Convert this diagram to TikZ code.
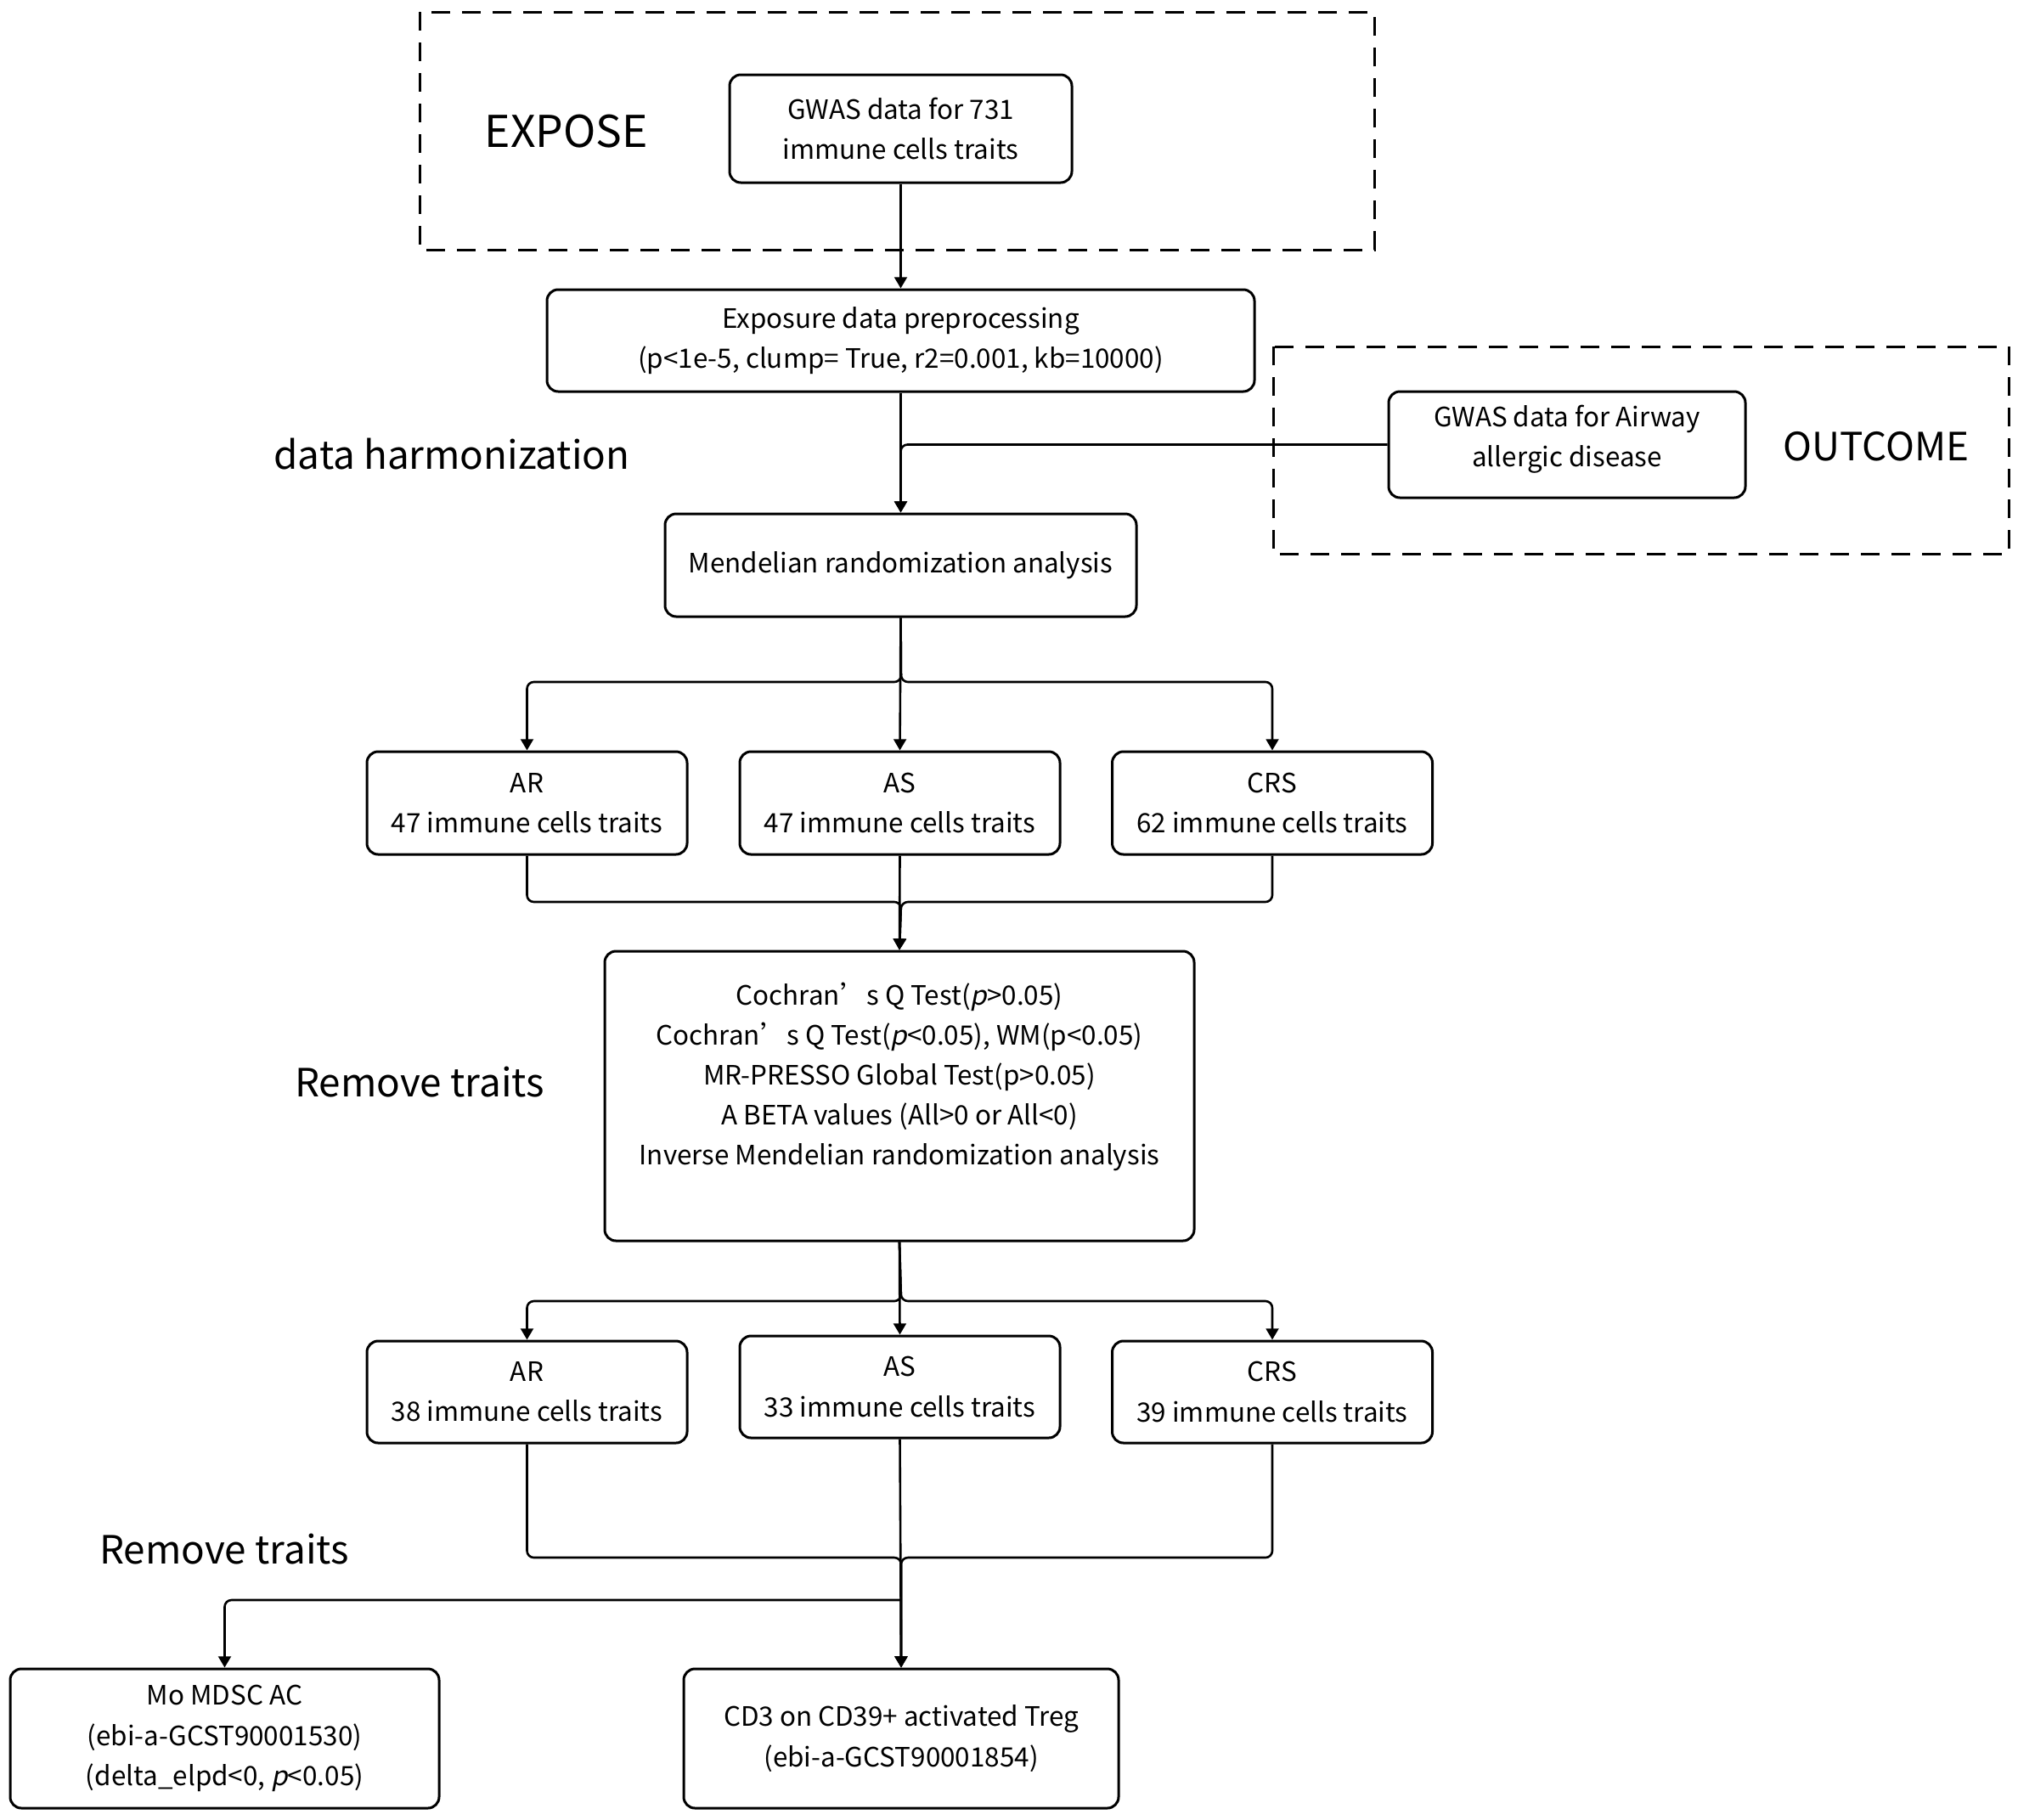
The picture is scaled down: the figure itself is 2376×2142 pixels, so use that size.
\documentclass[tikz,border=0pt]{standalone}
\usepackage{fontspec}
\setmainfont{Noto Sans CJK SC}[AutoFakeSlant=0.2]
\usetikzlibrary{arrows.meta}
\begin{document}
\begin{tikzpicture}[x=0.25pt,y=-0.25pt,
  box/.style={draw, line width=0.75pt, rounded corners=3.3pt, align=center,
    font=\fontsize{7.85}{11.8}\selectfont, inner sep=0pt},
  conn/.style={line width=0.65pt, rounded corners=2pt},
  arr/.style={conn, -{Triangle[length=3.3pt,width=3.7pt]}},
  frame/.style={draw, line width=0.75pt, dash pattern=on 5.5pt off 3.5pt},
  big/.style={font=\fontsize{11.45}{13}\selectfont, inner sep=0pt}]
\useasboundingbox (0,0) rectangle (2376,2142);
\fill[white] (0,0) rectangle (2376,2142);

% dashed frames
\draw[frame] (494,14) rectangle (1618,294);
\draw[frame] (1499,408) rectangle (2365,652);

% labels
\node[big, font=\fontsize{12.9}{15}\selectfont] (expose) at (667,155) {EXPOSE};
\node[big] (outcome) at (2209,526) {OUTCOME};
\node[big] (harm) at (532,535) {data harmonization};
\node[big] (rem1) at (494,1274) {Remove traits};
\node[big] (rem2) at (264,1824) {Remove traits};

% boxes
\node[box, minimum width=100.75pt, minimum height=31.75pt] (g731) at (1060.5,151.5) {GWAS data for 731\\immune cells traits};
\node[box, minimum width=208.25pt, minimum height=30pt] (prep) at (1060.5,401) {Exposure data preprocessing\\(p<1e-5, clump= True, r2=0.001, kb=10000)};
\node[box, minimum width=105pt, minimum height=31.25pt] (air) at (1845,523.5) {};
\node[box, draw=none] (airtxt) at (1845,517) {GWAS data for Airway\\allergic disease};
\node[box, minimum width=138.75pt, minimum height=30.25pt] (mr) at (1060.5,665.5) {Mendelian randomization analysis};

\node[box, minimum width=94.25pt, minimum height=30.25pt] (ar1) at (620.5,945.5) {AR\\47 immune cells traits};
\node[box, minimum width=94.25pt, minimum height=30.25pt] (as1) at (1059.5,945.5) {AS\\47 immune cells traits};
\node[box, minimum width=94.25pt, minimum height=30.25pt] (crs1) at (1498,945.5) {CRS\\62 immune cells traits};

\node[box, minimum width=173.5pt, minimum height=85.25pt] (coch) at (1059,1290.5) {};
\node[box, draw=none] (cochtxt) at (1059,1268) {Cochran’s Q Test(\textit{p}>0.05)\\Cochran’s Q Test(\textit{p}<0.05), WM(p<0.05)\\MR-PRESSO Global Test(p>0.05)\\A BETA values (All>0 or All<0)\\Inverse Mendelian randomization analysis};

\node[box, minimum width=94.25pt, minimum height=30pt] (ar2) at (620.5,1639) {AR\\38 immune cells traits};
\node[box, minimum width=94.25pt, minimum height=30pt] (as2) at (1059.5,1633) {AS\\33 immune cells traits};
\node[box, minimum width=94.25pt, minimum height=30pt] (crs2) at (1498,1639) {CRS\\39 immune cells traits};

\node[box, minimum width=126.25pt, minimum height=41pt] (mo) at (264.5,2047) {Mo MDSC AC\\(ebi-a-GCST90001530)\\(delta\_elpd<0, \textit{p}<0.05)};
\node[box, minimum width=128pt, minimum height=41pt] (cd3) at (1061,2047) {CD3 on CD39+ activated Treg\\(ebi-a-GCST90001854)};

% junction coordinates
\coordinate (s1) at (1061,803);
\coordinate (m1) at (1061,1062);
\coordinate (s2) at (1061,1532);
\coordinate (m2) at (1061,1834);
\coordinate (s3) at (1061,1884);

% connectors
\draw[arr] (g731.south) -- (prep.north);
\draw[arr] (prep.south) -- (mr.north);
\draw[arr] (air.west) -| (mr.north);

\draw[arr] (mr.south) -- (s1) -| (ar1.north);
\draw[arr] (mr.south) -- (as1.north);
\draw[arr] (mr.south) -- (s1) -| (crs1.north);

\draw[arr] (ar1.south) |- (m1) -- (coch.north);
\draw[arr] (as1.south) -- (coch.north);
\draw[arr] (crs1.south) |- (m1) -- (coch.north);

\draw[arr] (coch.south) -- (s2) -| (ar2.north);
\draw[arr] (coch.south) -- (as2.north);
\draw[arr] (coch.south) -- (s2) -| (crs2.north);

\draw[arr] (ar2.south) |- (m2) -- (cd3.north);
\draw[arr] (as2.south) -- (cd3.north);
\draw[arr] (crs2.south) |- (m2) -- (cd3.north);
\draw[arr] (s3) -| (mo.north);
\end{tikzpicture}
\end{document}
